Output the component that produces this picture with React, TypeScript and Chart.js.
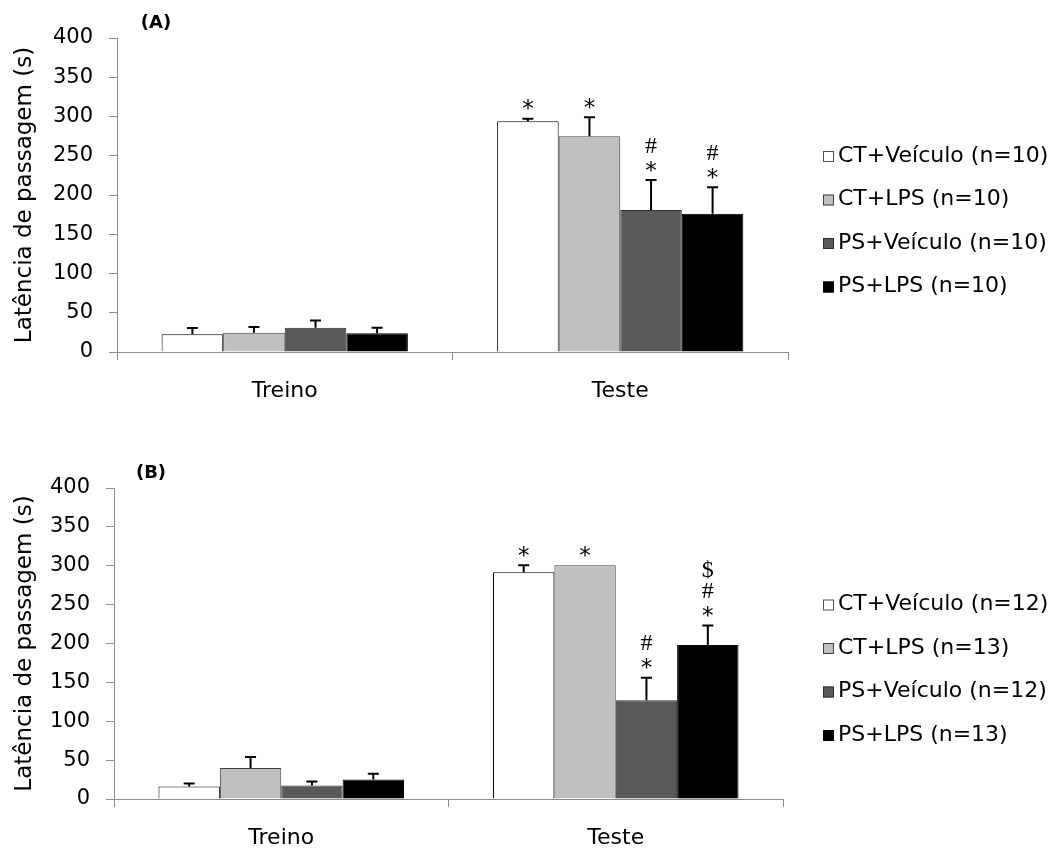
import React, { useEffect, useRef } from 'react';
import { Chart, registerables } from 'chart.js';

Chart.register(...registerables);

// ---------- data ----------
const categories = ['Treino', 'Teste'];
const yMin = 0;
const yMax = 400;
const yStep = 50;

const seriesLabelsA = ['CT+Veículo (n=10)', 'CT+LPS (n=10)', 'PS+Veículo (n=10)', 'PS+LPS (n=10)'];
const seriesLabelsB = ['CT+Veículo (n=12)', 'CT+LPS (n=13)', 'PS+Veículo (n=12)', 'PS+LPS (n=13)'];

// Panel A means and SEM
const aCtVeh = [22.5, 294];
const aCtLps = [24.5, 275];
const aPsVeh = [31, 181];
const aPsLps = [24, 176];
const aCtVehErr = [8, 3];
const aCtLpsErr = [7.5, 24];
const aPsVehErr = [9, 38];
const aPsLpsErr = [7, 34];

// Panel B means and SEM
const bCtVeh = [16, 291.5];
const bCtLps = [40, 300.5];
const bPsVeh = [17.5, 127];
const bPsLps = [25, 198];
const bCtVehErr = [4, 9];
const bCtLpsErr = [14, 0];
const bPsVehErr = [5, 29];
const bPsLpsErr = [7.5, 25];

// significance marks (bottom to top) per series per category
const aMarks = [[[], ['*']], [[], ['*']], [[], ['*', '#']], [[], ['*', '#']]];
const bMarks = [[[], ['*']], [[], ['*']], [[], ['*', '#']], [[], ['*', '#', '$']]];

const fillColors = ['#ffffff', '#c0c0c0', '#595959', '#000000'];
const borderColors = ['#000000', '#404040', '#2e2e2e', '#000000'];

const FONT = '"DejaVu Sans", sans-serif';

const overlayPlugin = {
  id: 'overlay',
  afterDatasetsDraw(chart: any, _args: any, opts: any) {
    const { ctx } = chart;
    const y = chart.scales.y;
    chart.data.datasets.forEach((ds: any, i: number) => {
      const meta = chart.getDatasetMeta(i);
      meta.data.forEach((bar: any, j: number) => {
        const v = ds.data[j];
        const e = opts.errors[i][j];
        const top = y.getPixelForValue(v + e);
        ctx.save();
        if (e > 0) {
          ctx.strokeStyle = '#000';
          ctx.lineWidth = 2;
          ctx.beginPath();
          ctx.moveTo(bar.x, bar.y);
          ctx.lineTo(bar.x, top);
          ctx.moveTo(bar.x - 5.5, top);
          ctx.lineTo(bar.x + 5.5, top);
          ctx.stroke();
        }
        const marks = opts.marks[i][j] as string[];
        marks.forEach((s, k) => {
          const cy = top - 14 - k * 21;
          ctx.font = s === '*' ? '23px "DejaVu Sans"' : '24px "Liberation Serif"';
          const mt = ctx.measureText(s);
          const base = cy + (mt.actualBoundingBoxAscent - mt.actualBoundingBoxDescent) / 2;
          ctx.textAlign = 'center';
          ctx.textBaseline = 'alphabetic';
          ctx.fillStyle = '#000';
          ctx.fillText(s, bar.x, base);
        });
        ctx.restore();
      });
    });
  },
  afterDraw(chart: any, _args: any, opts: any) {
    const { ctx, chartArea } = chart;
    ctx.save();
    // legend
    const cy0 = (chartArea.top + chartArea.bottom) / 2 - 39;
    chart.data.datasets.forEach((ds: any, i: number) => {
      const cy = cy0 + i * 43.5;
      ctx.fillStyle = ds.backgroundColor;
      ctx.fillRect(823, cy - 5, 11, 11);
      ctx.strokeStyle = i === 0 ? '#555555' : ds.borderColor;
      ctx.lineWidth = 1;
      ctx.strokeRect(823.5, cy - 4.5, 10, 10);
      ctx.fillStyle = '#000';
      ctx.font = '22px ' + FONT;
      ctx.textAlign = 'left';
      ctx.textBaseline = 'middle';
      ctx.fillText(ds.label, 838, cy);
    });
    // panel label
    ctx.font = 'bold 18px ' + FONT;
    ctx.textAlign = 'center';
    ctx.textBaseline = 'middle';
    ctx.fillStyle = '#000';
    ctx.fillText(opts.label, opts.labelX, opts.labelY);
    ctx.restore();
  },
};

type PanelProps = {
  height: number;
  labels: string[];
  values: number[][];
  errors: number[][];
  marks: string[][][];
  label: string;
  labelX: number;
  labelY: number;
  padTop: number;
  padRight: number;
  yWidth: number;
  xHeight: number;
};

function Panel(p: PanelProps) {
  const ref = useRef<HTMLCanvasElement | null>(null);
  useEffect(() => {
    if (!ref.current) return;
    const chart = new Chart(ref.current, {
      type: 'bar',
      data: {
        labels: categories,
        datasets: p.values.map((vals, i) => ({
          label: p.labels[i],
          data: vals,
          backgroundColor: fillColors[i],
          borderColor: borderColors[i],
          borderWidth: 1,
          categoryPercentage: 0.734,
          barPercentage: 1,
        })),
      },
      options: {
        animation: false,
        responsive: false,
        layout: { padding: { top: p.padTop, right: p.padRight, left: 0, bottom: 0 } },
        plugins: {
          legend: { display: false },
          tooltip: { enabled: false },
          overlay: { errors: p.errors, marks: p.marks, label: p.label, labelX: p.labelX, labelY: p.labelY },
        } as any,
        scales: {
          x: {
            grid: { display: true, drawOnChartArea: false, drawTicks: true, tickLength: 8, color: '#8c8c8c', offset: true },
            border: { display: true, color: '#8c8c8c', width: 1 },
            ticks: { color: '#000', font: { family: FONT, size: 22 }, padding: 18 },
            afterFit: (s: any) => { s.height = p.xHeight; },
          },
          y: {
            min: yMin,
            max: yMax,
            grid: { display: true, drawOnChartArea: false, drawTicks: true, tickLength: 8, color: '#8c8c8c' },
            border: { display: true, color: '#8c8c8c', width: 1 },
            ticks: { stepSize: yStep, color: '#000', font: { family: FONT, size: 21 }, padding: 16 },
            title: {
              display: true,
              text: 'Latência de passagem (s)',
              color: '#000',
              font: { family: FONT, size: 23 },
              padding: { top: 11, bottom: 0 },
            },
            afterFit: (s: any) => { s.width = p.yWidth; },
          },
        },
      },
      plugins: [overlayPlugin],
    });
    return () => chart.destroy();
  }, []);
  return <canvas ref={ref} width={1063} height={p.height} style={{ display: 'block', width: 1063, height: p.height }} />;
}

export default function App() {
  return (
    <div style={{ position: 'absolute', left: 0, top: 0, width: 1063, height: 849, background: '#fff' }}>
      <Panel
        height={425}
        labels={seriesLabelsA}
        values={[aCtVeh, aCtLps, aPsVeh, aPsLps]}
        errors={[aCtVehErr, aCtLpsErr, aPsVehErr, aPsLpsErr]}
        marks={aMarks}
        label="(A)"
        labelX={156}
        labelY={23}
        padTop={38}
        padRight={275}
        yWidth={117}
        xHeight={73}
      />
      <Panel
        height={424}
        labels={seriesLabelsB}
        values={[bCtVeh, bCtLps, bPsVeh, bPsLps]}
        errors={[bCtVehErr, bCtLpsErr, bPsVehErr, bPsLpsErr]}
        marks={bMarks}
        label="(B)"
        labelX={151}
        labelY={48}
        padTop={63}
        padRight={280}
        yWidth={114}
        xHeight={50}
      />
    </div>
  );
}
